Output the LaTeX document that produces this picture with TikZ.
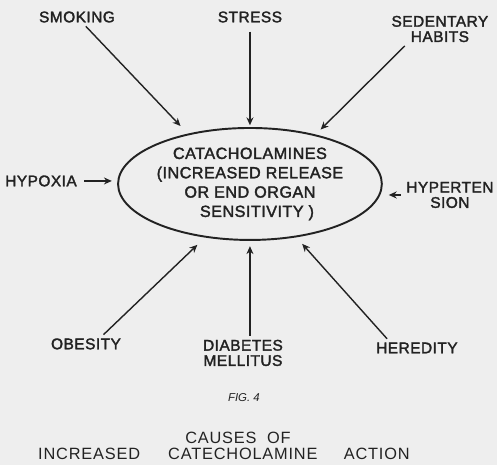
\documentclass[tikz,border=0pt]{standalone}
\usepackage{fontspec}
\setmainfont{Liberation Sans}
\newfontfamily\letterfont[FakeBold=2,LetterSpace=3]{Liberation Sans}
\newfontfamily\capfont[LetterSpace=5]{Liberation Sans}
\usetikzlibrary{shapes.geometric,arrows.meta}
\definecolor{ink}{HTML}{222222}
\definecolor{paper}{HTML}{EEEEEE}
\begin{document}
\begin{tikzpicture}[x=0.2mm,y=-0.2mm]

    \tikzset{
      cause/.style={
        text=ink,
        font=\letterfont\fontsize{8.8}{8.7}\selectfont,
        align=center,
        inner sep=2pt,
      },
      arr/.style={
        draw=ink,
        line width=0.8pt,
        -{Stealth[length=4.5pt,width=4pt]},
      },
      caption/.style={
        text=ink,
        font=\capfont\fontsize{9.3}{11}\selectfont,
        inner sep=1pt,
      },
    }

	\fill[paper] (0,0) rectangle (497,465);

	\node[ellipse,draw=ink,line width=1.1pt,minimum width=46.4mm,minimum height=22.4mm,inner sep=0pt,align=center,text=ink,font=\letterfont\fontsize{9.2}{11}\selectfont] (cat) at (250,184) {CATACHOLAMINES\\(INCREASED RELEASE\\OR END ORGAN\hspace*{12pt}\\\hspace*{8pt}SENSITIVITY )};

	\node[cause] (smoking) at (77,17) {SMOKING};
	\node[cause] (stress) at (250,17) {STRESS};
	\node[cause] (sedentary) at (440,29) {SEDENTARY\\HABITS};
	\node[cause] (hypoxia) at (41,181) {HYPOXIA};
	\node[cause] (hyperten) at (450,195) {HYPERTEN\\SION};
	\node[cause] (obesity) at (86,344) {OBESITY};
	\node[cause] (diabetes) at (243,353) {DIABETES\\MELLITUS};
	\node[cause] (heredity) at (417,348) {HEREDITY};

	\draw[arr,shorten >=6pt] (smoking) -- (cat.141);
	\draw[arr,shorten <=3pt,shorten >=1pt] (stress) -- (cat.north);
	\draw[arr,shorten >=4pt] ([xshift=-20pt]sedentary.south) -- (cat.37);
	\draw[arr,shorten <=2pt,shorten >=3pt] (hypoxia.east) -- (hypoxia.east -| cat.west);
	\draw[arr,shorten <=1pt,shorten >=3.4pt] (hyperten.west) -- (hyperten.west -| cat.east);
	\draw[arr,shorten >=6pt] ([xshift=10pt]obesity.north) -- (cat.230);
	\draw[arr,shorten >=3pt] (diabetes.north -| cat.south) -- (cat.south);
	\draw[arr,shorten >=5pt] ([xshift=-17pt]heredity.north) -- (cat.311);

	\node[caption,font=\fontsize{6.5}{7}\selectfont\itshape] (fig) at (244,398) {FIG. 4};
	\node[caption] (causes) at (238,438) {CAUSES\hspace{6pt}OF};
	\node[caption] (action) at (224,454) {INCREASED\hspace{16pt}CATECHOLAMINE\hspace{15pt}ACTION};

\end{tikzpicture}
\end{document}
